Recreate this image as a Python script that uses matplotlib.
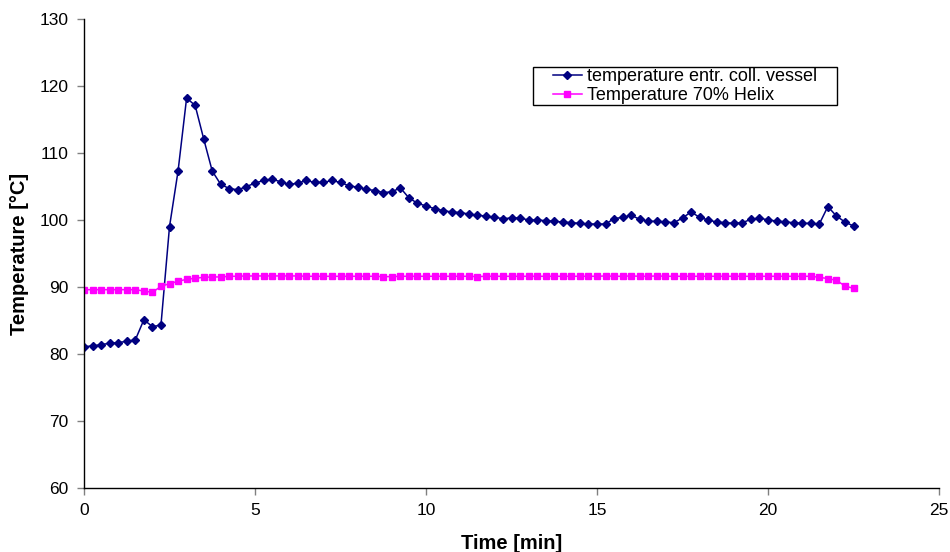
import numpy as np
import matplotlib
matplotlib.use('Agg')
import matplotlib.pyplot as plt
from matplotlib.patches import Rectangle

plt.rcParams['font.family'] = ['Liberation Sans', 'DejaVu Sans']

# one reading every quarter minute, 0 .. 22.5 min
time_min = np.arange(91) * 0.25

temp_vessel = [
    81.1, 81.2, 81.4, 81.6, 81.7, 81.9, 82.1, 85.1, 84.1, 84.3,
    99.0, 107.3, 118.2, 117.1, 112.1, 107.3, 105.3, 104.7, 104.5, 105.0,
    105.5, 105.9, 106.1, 105.7, 105.3, 105.5, 105.9, 105.6, 105.6, 105.9,
    105.6, 105.1, 104.9, 104.6, 104.4, 104.1, 104.2, 104.8, 103.3, 102.5,
    102.1, 101.7, 101.4, 101.2, 101.1, 100.9, 100.7, 100.6, 100.4, 100.2,
    100.3, 100.3, 100.0, 100.0, 99.9, 99.8, 99.7, 99.6, 99.5, 99.4,
    99.4, 99.4, 100.2, 100.4, 100.7, 100.1, 99.8, 99.8, 99.7, 99.6,
    100.3, 101.2, 100.4, 100.0, 99.7, 99.6, 99.5, 99.6, 100.1, 100.3,
    100.0, 99.85, 99.7, 99.6, 99.5, 99.5, 99.4, 102.0, 100.6, 99.7,
    99.1,
]

temp_helix = [
    89.6, 89.6, 89.6, 89.6, 89.6, 89.6, 89.6, 89.4, 89.2, 90.1,
    90.5, 90.85, 91.15, 91.3, 91.45, 91.5, 91.5, 91.6, 91.6, 91.65,
    91.65, 91.65, 91.65, 91.65, 91.65, 91.65, 91.6, 91.6, 91.6, 91.6,
    91.6, 91.6, 91.6, 91.6, 91.6, 91.55, 91.55, 91.6, 91.6, 91.6,
    91.6, 91.6, 91.6, 91.6, 91.6, 91.6, 91.55, 91.6, 91.6, 91.6,
    91.6, 91.6, 91.6, 91.6, 91.6, 91.6, 91.6, 91.6, 91.6, 91.6,
    91.6, 91.65, 91.6, 91.6, 91.65, 91.6, 91.6, 91.65, 91.6, 91.6,
    91.6, 91.6, 91.6, 91.6, 91.6, 91.6, 91.6, 91.6, 91.6, 91.6,
    91.6, 91.6, 91.6, 91.6, 91.6, 91.6, 91.45, 91.25, 91.0, 90.15,
    89.8,
]

label_vessel = 'temperature entr. coll. vessel'
label_helix = 'Temperature 70% Helix'

W, H = 950, 552
fig = plt.figure(figsize=(W / 100, H / 100), dpi=100)
ax = fig.add_axes([84 / W, 1 - 488 / H, 855 / W, 469 / H])

ax.plot(time_min, temp_vessel, color='#000080', marker='D', markersize=4.5,
        linewidth=1.1, label=label_vessel)
ax.plot(time_min, temp_helix, color='#FF00FF', marker='s', markersize=5,
        linewidth=1.1, label=label_helix)

ax.set_xlim(0, 25)
ax.set_ylim(60, 130)
ax.set_xticks(range(0, 26, 5))
ax.set_yticks(range(60, 131, 10))

for side in ['top', 'right']:
    ax.spines[side].set_visible(False)
for side in ['left', 'bottom']:
    ax.spines[side].set_linewidth(1.0)
ax.tick_params(direction='out', length=5, width=1, color='#808080',
               labelsize=12.5, pad=6)

ax.set_xlabel('Time [min]', fontsize=14.5, fontweight='bold', labelpad=11)
ax.set_ylabel('Temperature [°C]', fontsize=14.5, fontweight='bold', labelpad=8)

# legend entries without frame, box drawn separately (wide side padding like Excel)
leg = ax.legend(loc='upper left', bbox_to_anchor=(553 / W, 1 - 68 / H),
                bbox_transform=fig.transFigure, fontsize=13, frameon=False,
                borderpad=0, handlelength=1.6, handletextpad=0.3,
                labelspacing=0.12, borderaxespad=0)
fig.patches.append(Rectangle((533 / W, 1 - 105 / H), 304 / W, 38 / H,
                             transform=fig.transFigure, fill=False,
                             edgecolor='black', linewidth=1.0))

fig.savefig('out.png', dpi=100)
